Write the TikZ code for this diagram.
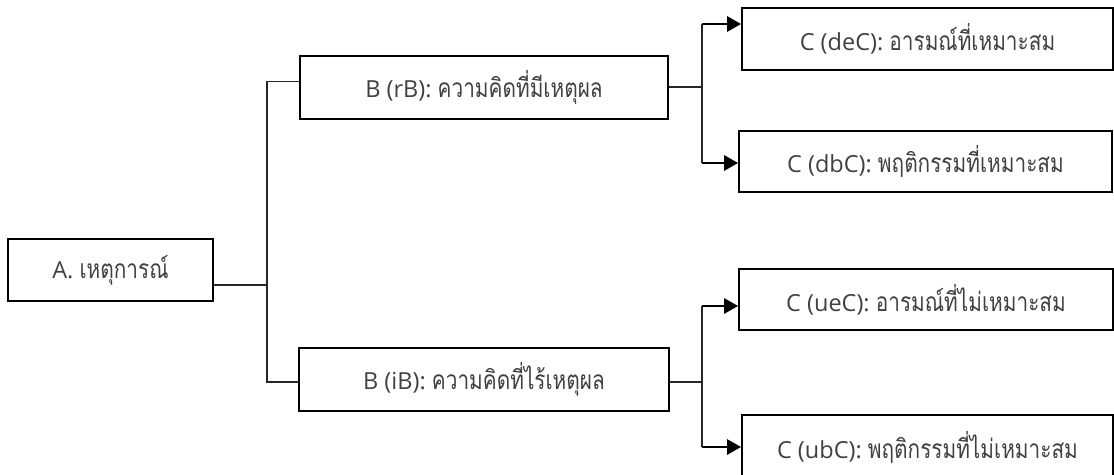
\documentclass[tikz,border=0pt]{standalone}
\usepackage{fontspec}
\setmainfont{Open Sans}
\newfontfamily\thaif[Script=Thai,Scale=1.12,FakeStretch=0.79]{Loma}
\newcommand\thtxt[1]{{\thaif #1}}
\usetikzlibrary{arrows.meta}
\begin{document}
\begin{tikzpicture}[x=1pt,y=-1pt,
  box/.style={draw=black, line width=1.8pt, inner sep=0pt, font=\fontsize{23.5}{28}\selectfont, text=black!75},
  thin/.style={draw=black!85, line width=1.3pt},
  arr/.style={draw=black, line width=2.8pt, -{Triangle[length=14pt,width=15pt]}}]
\useasboundingbox (0,0) rectangle (1114,474);
\node[box, minimum width=205pt, minimum height=62pt] (A) at (110.5,270) {A. \thtxt{เหตุการณ์}};
\node[box, minimum width=368pt, minimum height=63pt] (B1) at (484,87.5) {B (rB): \thtxt{ความคิดที่มีเหตุผล}};
\node[box, minimum width=370pt, minimum height=63pt] (B2) at (484,379.5) {B (iB): \thtxt{ความคิดที่ไร้เหตุผล}};
\node[box, minimum width=371pt, minimum height=62pt] (C1) at (927.5,39) {C (deC): \thtxt{อารมณ์ที่เหมาะสม}};
\node[box, minimum width=373pt, minimum height=61pt] (C2) at (925.5,161.5) {C (dbC): \thtxt{พฤติกรรมที่เหมาะสม}};
\node[box, minimum width=374pt, minimum height=61pt] (C3) at (926,299.5) {C (ueC): \thtxt{อารมณ์ที่ไม่เหมาะสม}};
\node[box, minimum width=371pt, minimum height=64pt] (C4) at (927.5,447) {C (ubC): \thtxt{พฤติกรรมที่ไม่เหมาะสม}};
\coordinate (jA) at (267,285);
\coordinate (jB1) at (702,87);
\coordinate (t1) at (702,24);
\coordinate (t2) at (702,163);
\coordinate (jB2) at (702,382);
\coordinate (t3) at (702,306);
\coordinate (t4) at (702,447);
\draw[thin] ([yshift=-15pt]A.east) -- (jA);
\draw[thin] ([yshift=6pt]B1.west) -| (jA) |- ([yshift=-2.5pt]B2.west);
\draw[thin] ([yshift=0.5pt]B1.east) -- (jB1);
\draw[thin] (t1) -- (t2);
\draw[thin] ([yshift=-2.5pt]B2.east) -- (jB2);
\draw[thin] (t3) -- (t4);
\draw[arr] (t1) -- (C1.west |- t1);
\draw[arr] (t2) -- (C2.west |- t2);
\draw[arr] (t3) -- (C3.west |- t3);
\draw[arr] (t4) -- (C4.west |- t4);
\end{tikzpicture}
\end{document}
